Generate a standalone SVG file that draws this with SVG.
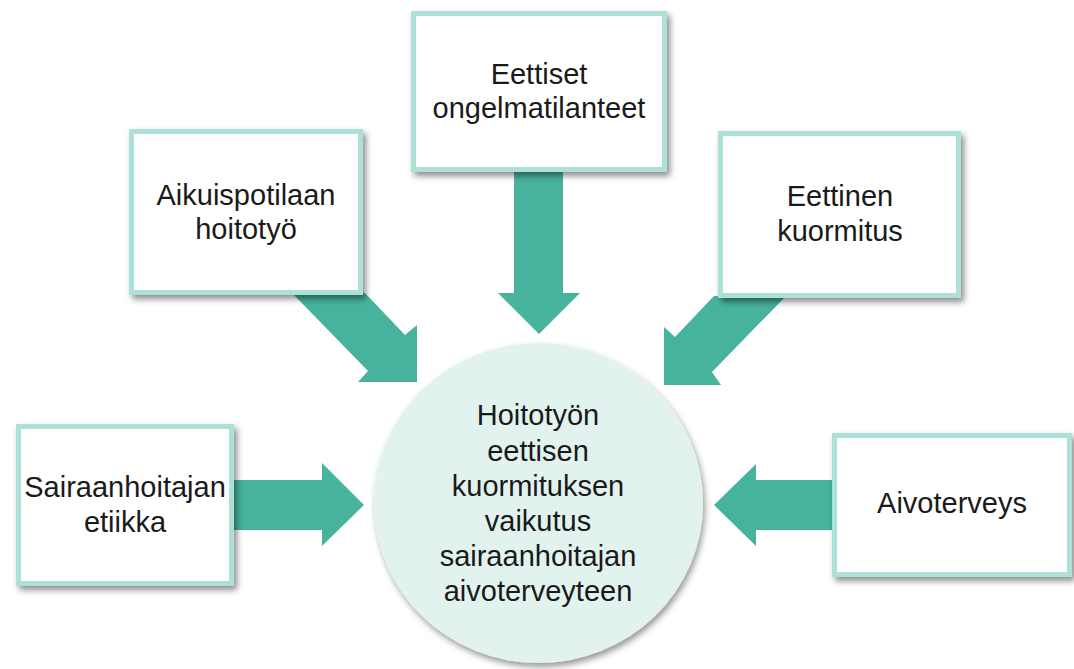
<svg xmlns="http://www.w3.org/2000/svg" width="1074" height="669" viewBox="0 0 1074 669">
  <defs>
    <filter id="sh" x="-10%" y="-10%" width="125%" height="130%">
      <feDropShadow dx="3" dy="4" stdDeviation="3" flood-color="#000" flood-opacity="0.45"/>
    </filter>
    <filter id="shc" x="-10%" y="-10%" width="125%" height="125%">
      <feDropShadow dx="2" dy="4" stdDeviation="3" flood-color="#000" flood-opacity="0.4"/>
    </filter>
  </defs>
  <style>
    .arrow { fill: #48b39c; }
    .box { fill: #ffffff; stroke: #ade0d6; stroke-width: 5; filter: url(#sh); }
    .circ { fill: #e2f3ef; filter: url(#shc); }
    text { font-family: "Liberation Sans", Arial, sans-serif; font-size: 29px; fill: #1a1a1a; text-anchor: middle; }
  </style>
  <rect width="1074" height="669" fill="#ffffff"/>
  <g id="connectors">
    <polygon class="arrow" points="514,170 563,170 563,293 580,293 539,334 498,293 514,293"/>
    <polygon class="arrow" points="292,293 365,293 405,335 417,325 417,382 358,382 368,371"/>
    <polygon class="arrow" points="714,296 786,296 712,372 721,385 664,385 664,327 675,337"/>
    <polygon class="arrow" points="232,480 322,480 322,463 364,505 322,546 322,530 232,530"/>
    <polygon class="arrow" points="834,480 756,480 756,464 714,505 756,546 756,530 834,530"/>
  </g>
  <g id="center">
    <ellipse class="circ" cx="538.5" cy="503" rx="164.5" ry="160"/>
    <text x="538" y="425">Hoitotyön</text>
    <text x="538" y="461">eettisen</text>
    <text x="538" y="496">kuormituksen</text>
    <text x="538" y="531">vaikutus</text>
    <text x="538" y="566">sairaanhoitajan</text>
    <text x="538" y="601">aivoterveyteen</text>
  </g>
  <g id="n-eettiset">
    <rect class="box" x="413.5" y="13.5" width="251" height="156"/>
    <text x="539" y="84">Eettiset</text>
    <text x="539" y="118">ongelmatilanteet</text>
  </g>
  <g id="n-aikuis">
    <rect class="box" x="131.5" y="131.5" width="229" height="161"/>
    <text x="246" y="205">Aikuispotilaan</text>
    <text x="246" y="239">hoitotyö</text>
  </g>
  <g id="n-eettinen">
    <rect class="box" x="720.5" y="133.5" width="238" height="162"/>
    <text x="840" y="206">Eettinen</text>
    <text x="840" y="241">kuormitus</text>
  </g>
  <g id="n-sairaan">
    <rect class="box" x="18.5" y="426.5" width="213" height="157"/>
    <text x="125" y="497">Sairaanhoitajan</text>
    <text x="125" y="532">etiikka</text>
  </g>
  <g id="n-aivo">
    <rect class="box" x="834.5" y="435.5" width="235" height="139"/>
    <text x="952" y="513">Aivoterveys</text>
  </g>
</svg>
